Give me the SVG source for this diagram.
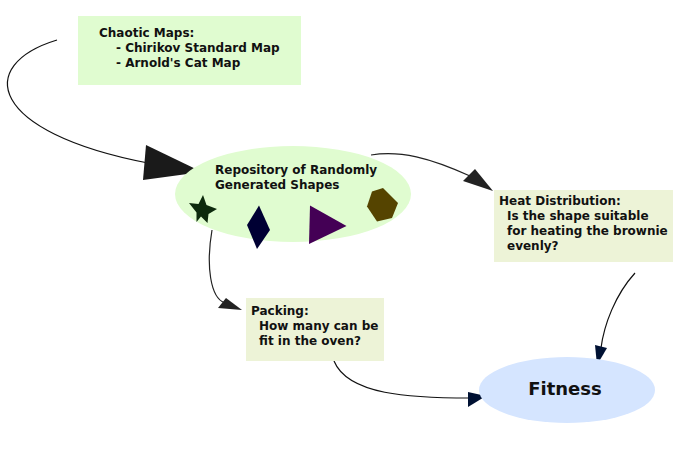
<svg xmlns="http://www.w3.org/2000/svg" width="698" height="449" viewBox="0 0 698 449">
<style>
text{font-family:"DejaVu Sans","Liberation Sans",sans-serif;font-weight:bold;font-size:12px;fill:#111}
.edge{fill:none;stroke-width:1.2}
</style>
<rect width="698" height="449" fill="#fff"/>
<g id="connectors">
<path class="edge" d="M57,40 C-25,65 -12,132 148,163" stroke="#111" stroke-width="1.5"/>
<polygon points="146,145 143,180 202,172" fill="#1a1a1a"/>
<path class="edge" d="M371,155 C400,150 430,158 470,176" stroke="#222"/>
<polygon points="463,181 475,169 493,191" fill="#222"/>
<path class="edge" d="M212,230 C206,265 210,298 225,303" stroke="#222"/>
<polygon points="218,308 226,298 242,310" fill="#222"/>
<path class="edge" d="M334,361 C348,395 410,398 470,398" stroke="#111"/>
<polygon points="468,407 468,392 486,396" fill="#001133"/>
<path class="edge" d="M635,273 C615,295 604,325 601,348" stroke="#111"/>
<polygon points="595,345 607,348 597,365" fill="#001133"/>
</g>
<g id="chaotic-maps">
<rect x="78" y="16" width="223" height="69" fill="#e0fcd0"/>
<text x="99" y="37">Chaotic Maps:</text>
<text x="116" y="52">- Chirikov Standard Map</text>
<text x="116" y="67">- Arnold's Cat Map</text>
</g>
<g id="repository">
<ellipse cx="293" cy="194" rx="118" ry="48" fill="#e0fcd0"/>
<text x="215" y="174" fill="#222">Repository of Randomly</text>
<text x="215" y="189" fill="#222">Generated Shapes</text>
<polygon points="203,195 206.5,205 217,209 208.5,214 207.5,223 201,216.5 196.5,222 196.5,212.5 189,203 198.5,204" fill="#0d2a0d"/>
<polygon points="259,205.5 270,230 257,249 247,225" fill="#000033"/>
<polygon points="310,205.5 346.5,226 309,244" fill="#440055"/>
<polygon points="383,188 398,203 392,218 377,221.5 367,206.5 372,191.5" fill="#554400"/>
</g>
<g id="heat">
<rect x="494" y="190" width="179" height="72" fill="#edf3d7"/>
<text x="499" y="205">Heat Distribution:</text>
<text x="507" y="220">Is the shape suitable</text>
<text x="507" y="235">for heating the brownie</text>
<text x="507" y="250">evenly?</text>
</g>
<g id="packing">
<rect x="246" y="298" width="138" height="63" fill="#edf3d7"/>
<text x="251" y="315">Packing:</text>
<text x="259" y="330">How many can be</text>
<text x="259" y="345">fit in the oven?</text>
</g>
<g id="fitness">
<ellipse cx="567" cy="390" rx="88" ry="33" fill="#d5e5ff"/>
<text x="565" y="395" text-anchor="middle" style="font-size:18px">Fitness</text>
</g>
</svg>
